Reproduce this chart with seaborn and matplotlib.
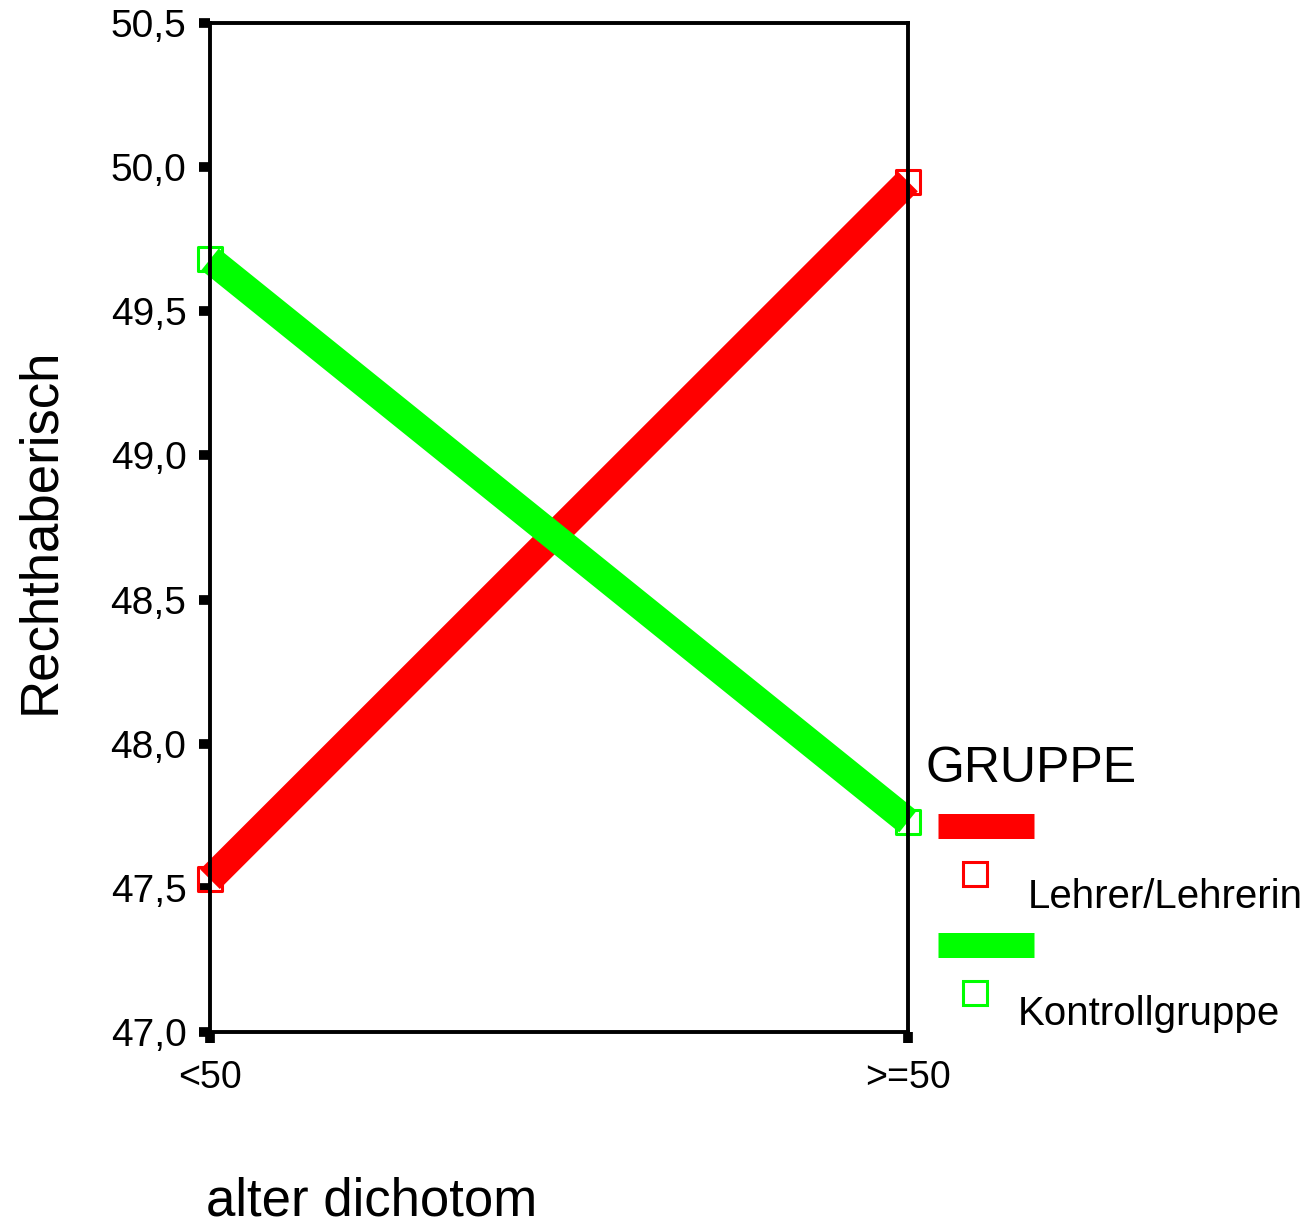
import numpy as np
import pandas as pd
import matplotlib
matplotlib.use("Agg")
import matplotlib.pyplot as plt
import seaborn as sns
from matplotlib.lines import Line2D

# ---- data ----
alter_kategorien = ["<50", ">=50"]
gruppen = ["Lehrer/Lehrerin", "Kontrollgruppe"]
werte_lehrer = [47.53, 49.95]
werte_kontroll = [49.68, 47.73]
farben = ["#FF0000", "#00FF00"]
y_ticks = [47.0, 47.5, 48.0, 48.5, 49.0, 49.5, 50.0, 50.5]

df = pd.DataFrame({
    "alter": alter_kategorien * 2,
    "pos": [0, 1, 0, 1],
    "wert": werte_lehrer + werte_kontroll,
    "gruppe": [gruppen[0]] * 2 + [gruppen[1]] * 2,
})

sns.set_theme(style="white")
plt.rcParams["font.family"] = ["Liberation Sans", "DejaVu Sans"]
plt.rcParams["text.color"] = "black"
plt.rcParams["axes.labelcolor"] = "black"
plt.rcParams["xtick.color"] = "black"
plt.rcParams["ytick.color"] = "black"

W, H = 1313, 1226
fig = plt.figure(figsize=(W / 100, H / 100), dpi=100)
ax = fig.add_axes([210 / W, 1 - 1032 / H, (908 - 210) / W, (1032 - 23) / H])

pal = dict(zip(gruppen, farben))

# markers (under lines)
sns.scatterplot(data=df, x="pos", y="wert", hue="gruppe", palette=pal,
                marker="s", s=300, linewidth=2.2, legend=False, ax=ax,
                zorder=1, clip_on=False)
coll = ax.collections[-1]
fc = coll.get_facecolors()
coll.set_edgecolors(fc)
coll.set_facecolors("none")

# lines
sns.lineplot(data=df, x="pos", y="wert", hue="gruppe", palette=pal,
             linewidth=20, legend=False, ax=ax, sort=False)
for ln in ax.lines:
    ln.set_solid_capstyle("butt")
    ln.set_clip_on(False)
    ln.set_zorder(2)

ax.set_xlim(0, 1)
ax.set_ylim(47.0, 50.5)
ax.set_xticks([0, 1])
ax.set_xticklabels(alter_kategorien)
ax.set_yticks(y_ticks)
ax.set_yticklabels([f"{v:.1f}".replace(".", ",") for v in y_ticks])

for s in ax.spines.values():
    s.set_visible(True)
    s.set_color("black")
    s.set_linewidth(2.8)
    s.set_zorder(3)

ax.tick_params(axis="both", which="major", direction="out", length=8,
               width=7, color="black", labelcolor="black", labelsize=28,
               pad=9, left=True, bottom=True, top=False, right=False)
ax.tick_params(axis="x", pad=12, labelsize=27)
for t in ax.get_xticklines() + ax.get_yticklines():
    t.set_zorder(4)

ax.set_xlabel("alter dichotom", fontsize=38, color="black")
ax.xaxis.label.set_va("center")
ax.xaxis.set_label_coords((372 - 210) / 698, -(1202 - 1032) / 1009)
ax.set_ylabel("Rechthaberisch", fontsize=38, color="black")
ax.yaxis.label.set_va("center")
ax.yaxis.set_label_coords((40 - 210) / 698, (1032 - 531) / 1009)

# ---- legend (SPSS style) ----
def fx(x):
    return x / W

def fy(y):
    return 1 - y / H

fig.text(fx(925), fy(782), "GRUPPE", fontsize=36, va="baseline", ha="left",
         color="black")
leg_rows = [(825.5, 874, 1028, 908), (944.5, 992.5, 1018, 1025)]
for (bar_y, sq_y, tx, ty), g, c in zip(leg_rows, gruppen, farben):
    fig.add_artist(Line2D([fx(938), fx(1034)], [fy(bar_y), fy(bar_y)],
                          transform=fig.transFigure, color=c, linewidth=18,
                          solid_capstyle="butt"))
    fig.add_artist(Line2D([fx(975)], [fy(sq_y)], transform=fig.transFigure,
                          marker="s", markersize=17.5, markerfacecolor="none",
                          markeredgecolor=c, markeredgewidth=2.2,
                          linestyle="none"))
    fig.text(fx(tx), fy(ty), g, fontsize=29, va="baseline", ha="left",
             color="black")

fig.savefig("out.png", dpi=100, facecolor="white")
